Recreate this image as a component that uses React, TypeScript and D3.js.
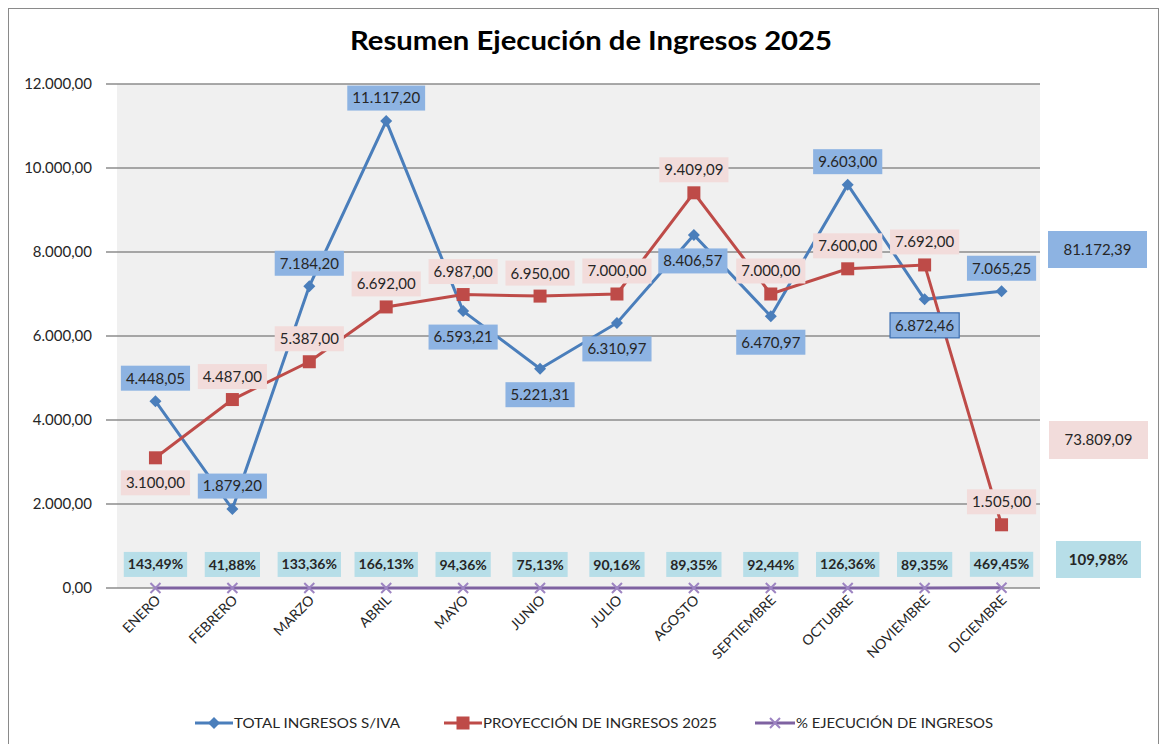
import React, { useEffect, useRef } from "react";
import * as d3 from "d3";

const title = "Resumen Ejecución de Ingresos 2025";
const months = ["ENERO", "FEBRERO", "MARZO", "ABRIL", "MAYO", "JUNIO", "JULIO", "AGOSTO", "SEPTIEMBRE", "OCTUBRE", "NOVIEMBRE", "DICIEMBRE"];
const totalIngresos = [4448.05, 1879.2, 7184.2, 11117.2, 6593.21, 5221.31, 6310.97, 8406.57, 6470.97, 9603.0, 6872.46, 7065.25];
const proyeccion = [3100, 4487, 5387, 6692, 6987, 6950, 7000, 9409.09, 7000, 7600, 7692, 1505];
const ejecucionPct = [143.49, 41.88, 133.36, 166.13, 94.36, 75.13, 90.16, 89.35, 92.44, 126.36, 89.35, 469.45];
const yTicks = [0, 2000, 4000, 6000, 8000, 10000, 12000];
const seriesNames = ["TOTAL INGRESOS S/IVA", "PROYECCIÓN DE INGRESOS 2025", "% EJECUCIÓN DE INGRESOS"];
// label placement (above / below the point), as in the reference
const blueLabelSide = ["a", "a", "a", "a", "b", "b", "b", "b", "b", "a", "b", "a"];
const redLabelSide = ["b", "a", "a", "a", "a", "a", "a", "a", "a", "a", "a", "a"];

const W = 1162, H = 744;
const M = { left: 117, right: 1040, top: 84, bottom: 588 };
const C = {
  blue: "#4a7ebb", red: "#be4b48", purple: "#7e62a1",
  blueBox: "#8db3e2", redBox: "#f2dcdb", pctBox: "#b7dee8",
  grid: "#8c8c8c", plotBg: "#f0f0f0", text: "#262626",
};
const FONT = "Lato, 'Open Sans', sans-serif";

const loc = d3.formatLocale({ decimal: ",", thousands: ".", grouping: [3], currency: ["", ""] });
const fmt = loc.format(",.2f");

export default function App() {
  const ref = useRef<SVGSVGElement>(null);
  useEffect(() => {
    const svg = d3.select(ref.current);
    svg.selectAll("*").remove();

    const x = d3.scaleBand<string>().domain(months).range([M.left, M.right]);
    const cx = (m: string) => (x(m) as number) + x.bandwidth() / 2;
    const y = d3.scaleLinear().domain([0, 12000]).range([M.bottom, M.top]);

    svg.append("rect").attr("x", 0).attr("y", 0).attr("width", W).attr("height", H).attr("fill", "#fff");
    svg.append("rect").attr("x", 8.5).attr("y", 8.5).attr("width", 1150).attr("height", 760)
      .attr("fill", "none").attr("stroke", "#8a8a8a").attr("stroke-width", 1);

    // title
    svg.append("text").attr("x", 591).attr("y", 50).attr("text-anchor", "middle")
      .attr("font-family", FONT).attr("font-weight", 700).attr("font-size", 26)
      .attr("textLength", 482).attr("lengthAdjust", "spacingAndGlyphs")
      .attr("fill", "#000").text(title);

    // plot background
    svg.append("rect").attr("x", M.left).attr("y", M.top).attr("width", M.right - M.left)
      .attr("height", M.bottom - M.top).attr("fill", C.plotBg);

    // gridlines + y labels
    const g = svg.append("g");
    yTicks.forEach((t) => {
      g.append("line").attr("x1", M.left - 11).attr("x2", M.right).attr("y1", y(t)).attr("y2", y(t))
        .attr("stroke", C.grid).attr("stroke-width", 1.5);
      g.append("text").attr("x", 92).attr("y", y(t)).attr("dy", "0.35em").attr("text-anchor", "end")
        .attr("font-family", FONT).attr("font-size", 15).attr("fill", C.text).text(fmt(t));
    });

    // x labels
    months.forEach((m) => {
      svg.append("text").attr("transform", `translate(${cx(m) + 6},${M.bottom + 13}) rotate(-45)`)
        .attr("text-anchor", "end").attr("font-family", FONT).attr("font-size", 14)
        .attr("fill", C.text).text(m);
    });

    const line = (vals: number[]) =>
      d3.line<number>().x((_, i) => cx(months[i])).y((v) => y(v))(vals);

    // purple line (percentage as fraction)
    const pctVals = ejecucionPct.map((p) => p / 100);
    svg.append("path").attr("d", line(pctVals)).attr("fill", "none").attr("stroke", C.purple).attr("stroke-width", 3);
    pctVals.forEach((v, i) => {
      const px = cx(months[i]), py = y(v);
      svg.append("path").attr("d", `M${px - 5},${py - 5}L${px + 5},${py + 5}M${px - 5},${py + 5}L${px + 5},${py - 5}`)
        .attr("stroke", "#9d84c2").attr("stroke-width", 2);
    });

    // blue line
    svg.append("path").attr("d", line(totalIngresos)).attr("fill", "none").attr("stroke", C.blue).attr("stroke-width", 3);
    totalIngresos.forEach((v, i) => {
      const px = cx(months[i]), py = y(v);
      svg.append("path").attr("d", `M${px},${py - 6}L${px + 6},${py}L${px},${py + 6}L${px - 6},${py}Z`).attr("fill", C.blue);
    });

    // red line
    svg.append("path").attr("d", line(proyeccion)).attr("fill", "none").attr("stroke", C.red).attr("stroke-width", 3);
    proyeccion.forEach((v, i) => {
      const px = cx(months[i]), py = y(v);
      svg.append("rect").attr("x", px - 6.5).attr("y", py - 6.5).attr("width", 13).attr("height", 13).attr("fill", C.red);
    });

    const box = (cxp: number, cyp: number, label: string, fill: string, bold = false, stroke?: string, padX = 5, h = 25, fs = 15) => {
      const gg = svg.append("g");
      const r = gg.append("rect").attr("fill", fill);
      const t = gg.append("text").attr("x", cxp).attr("y", cyp).attr("dy", "0.36em").attr("text-anchor", "middle")
        .attr("font-family", FONT).attr("font-size", fs).attr("font-weight", bold ? 700 : 400)
        .attr("fill", C.text).text(label);
      const w = (t.node() as SVGTextElement).getComputedTextLength() + padX * 2;
      r.attr("x", cxp - w / 2).attr("y", cyp - h / 2).attr("width", w).attr("height", h);
      if (stroke) r.attr("stroke", stroke).attr("stroke-width", 1.2);
    };

    // red labels
    proyeccion.forEach((v, i) => {
      const py = y(v);
      const cy = redLabelSide[i] === "a" ? py - 23 : py + 25;
      box(cx(months[i]), cy, fmt(v), C.redBox);
    });
    // blue labels
    totalIngresos.forEach((v, i) => {
      const py = y(v);
      const cy = blueLabelSide[i] === "a" ? py - 23 : py + 26;
      box(cx(months[i]) + (i === 7 ? -1 : 0), cy, fmt(v), C.blueBox, false, i === 10 ? "#3c6eb0" : undefined);
    });
    // pct labels
    ejecucionPct.forEach((p, i) => {
      box(cx(months[i]), y(p / 100) - 23.5, fmt(p) + "%", C.pctBox, true, undefined, 4, 25, 14);
    });

    // right-side summary boxes
    const sumT = d3.sum(totalIngresos);
    const sumP = d3.sum(proyeccion);
    const summary = (x0: number, y0: number, w: number, h: number, label: string, fill: string, bold = false) => {
      svg.append("rect").attr("x", x0).attr("y", y0).attr("width", w).attr("height", h).attr("fill", fill);
      svg.append("text").attr("x", x0 + w / 2).attr("y", y0 + h / 2).attr("dy", "0.36em").attr("text-anchor", "middle")
        .attr("font-family", FONT).attr("font-size", 15).attr("font-weight", bold ? 700 : 400)
        .attr("fill", C.text).text(label);
    };
    summary(1048, 231, 99, 37, fmt(sumT), C.blueBox);
    summary(1049, 421, 99, 38, fmt(sumP), C.redBox);
    summary(1056, 541, 85, 37, fmt((sumT / sumP) * 100) + "%", C.pctBox, true);

    // legend
    const ly = 723;
    const leg = [
      { x1: 195, x2: 233, tx: 234, tw: 166, color: C.blue, mk: "d" },
      { x1: 444, x2: 482, tx: 483, tw: 234, color: C.red, mk: "s" },
      { x1: 755, x2: 795, tx: 796, tw: 197, color: C.purple, mk: "x" },
    ];
    leg.forEach((l, i) => {
      svg.append("line").attr("x1", l.x1).attr("x2", l.x2).attr("y1", ly).attr("y2", ly).attr("stroke", l.color).attr("stroke-width", 3);
      const mx = (l.x1 + l.x2) / 2;
      if (l.mk === "d") svg.append("path").attr("d", `M${mx},${ly - 6}L${mx + 6},${ly}L${mx},${ly + 6}L${mx - 6},${ly}Z`).attr("fill", l.color);
      if (l.mk === "s") svg.append("rect").attr("x", mx - 6.5).attr("y", ly - 6.5).attr("width", 13).attr("height", 13).attr("fill", l.color);
      if (l.mk === "x") svg.append("path").attr("d", `M${mx - 5},${ly - 5}L${mx + 5},${ly + 5}M${mx - 5},${ly + 5}L${mx + 5},${ly - 5}`).attr("stroke", "#9d84c2").attr("stroke-width", 2);
      svg.append("text").attr("x", l.tx).attr("y", ly).attr("dy", "0.36em").attr("font-family", FONT)
        .attr("font-size", 14).attr("textLength", l.tw).attr("lengthAdjust", "spacingAndGlyphs")
        .attr("fill", C.text).text(seriesNames[i]);
    });
  }, []);

  return (
    <svg ref={ref} width={W} height={H} style={{ position: "absolute", left: 0, top: 0, display: "block" }} />
  );
}
